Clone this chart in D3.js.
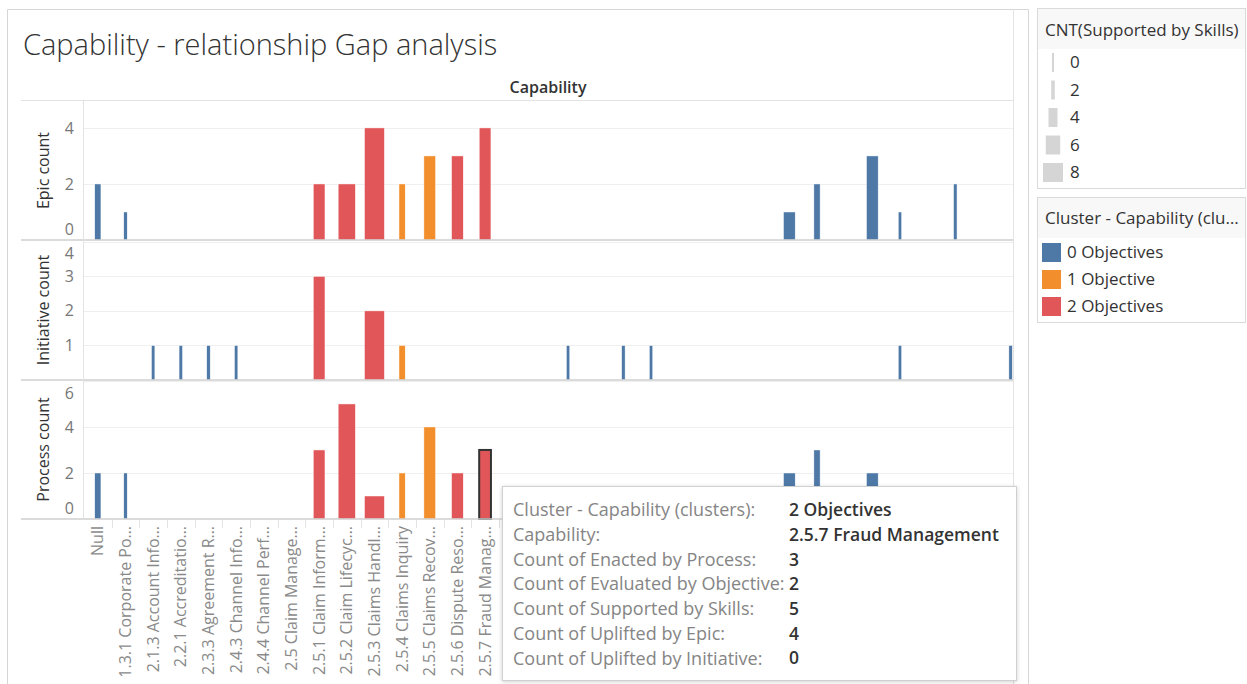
<!DOCTYPE html>
<meta charset="utf-8">
<style>
body { margin: 0; background: #fff; }
svg { font-family: "Open Sans", "Noto Sans", sans-serif; }
.grid line { stroke: #efefef; stroke-width: 1px; }
.divider { stroke: #cfcfcf; stroke-width: 1.5px; }
.tick-label { fill: #777; font-size: 16px; }
.axis-title { fill: #333; font-size: 16px; }
.x-label { fill: #8a8a8a; font-size: 16px; }
.legend-text { fill: #333; font-size: 17px; }
.tip-label { fill: #858585; font-size: 18px; }
.tip-value { fill: #333; font-size: 17.5px; font-weight: 600; }
</style>
<body>
<script src="https://d3js.org/d3.v7.min.js"></script>
<script>
// capability rows (labels as truncated on the axis)
var capabilities = ["Null", "1.3.1 Corporate Po…", "2.1.3 Account Info…", "2.2.1 Accreditatio…",
  "2.3.3 Agreement R…", "2.4.3 Channel Info…", "2.4.4 Channel Perf…", "2.5 Claim Manage…",
  "2.5.1 Claim Inform…", "2.5.2 Claim Lifecyc…", "2.5.3 Claims Handl…", "2.5.4 Claims Inquiry",
  "2.5.5 Claims Recov…", "2.5.6 Dispute Reso…", "2.5.7 Fraud Manag…",
  "2.5.8 Claim Payme…", "2.6 Customer Ma…", "2.6.1 Customer Pr…", "2.6.2 Customer Co…",
  "2.6.3 Customer Se…", "2.6.4 Customer Fe…", "2.7 Distribution…", "2.7.1 Broker Man…",
  "2.7.2 Agent Mana…", "2.8 Finance Mana…", "2.8.1 Billing", "2.8.2 Collections",
  "2.8.3 Disbursemen…", "2.8.4 General Led…", "2.9 Policy Admin…", "2.9.1 Policy Issu…",
  "2.9.2 Policy Servi…", "2.9.3 Renewals", "3.1 Product Dev…"];
var clusters = [0, 0, 0, 0, 0, 0, 0, 0, 2, 2, 2, 1, 1, 2, 2,
  0, 0, 0, 0, 0, 0, 0, 0, 0, 0, 0, 0, 0, 0, 0, 0, 0, 0, 0];
var epicCount = [2, 1, 0, 0, 0, 0, 0, 0, 2, 2, 4, 2, 3, 3, 4,
  0, 0, 0, 0, 0, 0, 0, 0, 0, 0, 1, 2, 0, 3, 1, 0, 2, 0, 0];
var initiativeCount = [0, 0, 1, 1, 1, 1, 0, 0, 3, 0, 2, 1, 0, 0, 0,
  0, 0, 1, 0, 1, 1, 0, 0, 0, 0, 0, 0, 0, 0, 1, 0, 0, 0, 1];
var processCount = [2, 2, 0, 0, 0, 0, 0, 0, 3, 5, 1, 2, 4, 2, 3,
  0, 0, 0, 0, 0, 0, 0, 0, 0, 0, 2, 3, 0, 2, 0, 0, 0, 0, 0];
var skillsCount = [3, 2, 2, 2, 2, 2, 0, 0, 5, 7, 8, 3, 5, 5, 5,
  0, 0, 2, 0, 2, 2, 0, 0, 0, 0, 5, 3, 0, 5, 2, 0, 2, 0, 2];

var clusterNames = ["0 Objectives", "1 Objective", "2 Objectives"];
var clusterColors = ["#4e79a7", "#f28e2b", "#e15759"];
var sizeLegendValues = [0, 2, 4, 6, 8];

var selectedIndex = 14;
var selectedFullName = "2.5.7 Fraud Management";

var W = 1247, H = 684;
var plotLeft = 84, plotRight = 1013, band = 27.66;

var svg = d3.select("body").append("svg")
    .attr("width", W)
    .attr("height", H);

svg.append("rect").attr("width", W).attr("height", H).attr("fill", "#fff");

// sheet frame
svg.append("path")
    .attr("d", "M7.5,684 V9.5 H1028.5 V684")
    .attr("fill", "none")
    .attr("stroke", "#d6d6d6");

svg.append("text")
    .attr("x", 23)
    .attr("y", 55)
    .attr("fill", "#333")
    .style("font-size", "29px")
    .style("font-weight", 300)
    .text("Capability - relationship Gap analysis");

svg.append("text")
    .attr("x", 548)
    .attr("y", 93)
    .attr("text-anchor", "middle")
    .attr("fill", "#333")
    .style("font-size", "16px")
    .style("font-weight", 600)
    .text("Capability");

var x = d3.scaleBand()
    .domain(capabilities)
    .range([plotLeft, plotLeft + band * capabilities.length]);

var size = d3.scaleLinear().domain([0, 8]).range([-2, 20]);
function barWidth(s) { return Math.max(2, size(s)); }

svg.append("clipPath").attr("id", "pane")
  .append("rect")
    .attr("x", plotLeft).attr("y", 90)
    .attr("width", plotRight - plotLeft).attr("height", 440);

var panels = [
  {title: "Epic count", values: epicCount, top: 101, bottom: 240, max: 4.96, ticks: [0, 2, 4]},
  {title: "Initiative count", values: initiativeCount, top: 240, bottom: 380, max: 4.05, ticks: [1, 2, 3, 4]},
  {title: "Process count", values: processCount, top: 380, bottom: 519, max: 6.04, ticks: [0, 2, 4, 6]}
];

// header line
svg.append("line")
    .attr("x1", 21).attr("x2", plotRight)
    .attr("y1", 100.5).attr("y2", 100.5)
    .attr("stroke", "#e3e3e3");

panels.forEach(function(p) {
  var y = d3.scaleLinear().domain([0, p.max]).range([p.bottom, p.top]);

  svg.append("g").attr("class", "grid")
    .selectAll("line")
    .data(p.ticks.filter(function(t) { return t > 0; }))
    .join("line")
      .attr("x1", plotLeft).attr("x2", plotRight)
      .attr("y1", function(t) { return Math.round(y(t)) + 0.5; })
      .attr("y2", function(t) { return Math.round(y(t)) + 0.5; });

  svg.append("g")
    .selectAll("text")
    .data(p.ticks)
    .join("text")
      .attr("class", "tick-label")
      .attr("x", 74)
      .attr("y", function(t) { return Math.max(p.top + 13, Math.min(p.bottom - 11, y(t))); })
      .attr("dy", "0.35em")
      .attr("text-anchor", "end")
      .text(function(t) { return t; });

  svg.append("text")
    .attr("class", "axis-title")
    .attr("transform", "translate(43," + (p.top + p.bottom) / 2 + ") rotate(-90)")
    .attr("dy", "0.35em")
    .attr("text-anchor", "middle")
    .text(p.title);

  svg.append("g")
      .attr("clip-path", "url(#pane)")
    .selectAll("rect")
    .data(capabilities.map(function(c, i) { return {i: i, c: c, v: p.values[i]}; })
      .filter(function(d) { return d.v > 0; }))
    .join("rect")
      .attr("x", function(d) { return x(d.c) + x.bandwidth() / 2 - barWidth(skillsCount[d.i]) / 2; })
      .attr("width", function(d) { return barWidth(skillsCount[d.i]); })
      .attr("y", function(d) { return y(d.v); })
      .attr("height", function(d) { return y(0) - y(d.v); })
      .attr("fill", function(d) { return clusterColors[clusters[d.i]]; })
      .attr("stroke", function(d) { return (p.title === "Process count" && d.i === selectedIndex) ? "#333" : "#fff"; })
      .attr("stroke-width", function(d) { return (p.title === "Process count" && d.i === selectedIndex) ? 2 : 0.5; });

  svg.append("line")
    .attr("class", "divider")
    .attr("x1", 21).attr("x2", plotRight)
    .attr("y1", p.bottom).attr("y2", p.bottom);
});

// row axis border and pane right edge
svg.append("line")
    .attr("x1", 83.5).attr("x2", 83.5).attr("y1", 101).attr("y2", 519)
    .attr("stroke", "#e3e3e3");
svg.append("line")
    .attr("x1", plotRight + 0.5).attr("x2", plotRight + 0.5).attr("y1", 9).attr("y2", 684)
    .attr("stroke", "#e3e3e3");

// x axis labels and separators
var xAxis = svg.append("g");
xAxis.selectAll("line")
  .data(capabilities.slice(1))
  .join("line")
    .attr("x1", function(c) { return Math.round(x(c)) + 0.5; })
    .attr("x2", function(c) { return Math.round(x(c)) + 0.5; })
    .attr("y1", 520).attr("y2", 528)
    .attr("stroke", "#e3e3e3");
xAxis.selectAll("text")
  .data(capabilities.filter(function(c) { return x(c) + x.bandwidth() / 2 < plotRight; }))
  .join("text")
    .attr("class", "x-label")
    .attr("transform", function(c) { return "translate(" + (x(c) + x.bandwidth() / 2) + ",526) rotate(-90)"; })
    .attr("dy", "0.35em")
    .attr("text-anchor", "end")
    .text(function(c) { return c; });

// size legend
var legend1 = svg.append("g");
legend1.append("rect").attr("x", 1037.5).attr("y", 8.5).attr("width", 208).attr("height", 180)
    .attr("fill", "#fff").attr("stroke", "#dadada");
legend1.append("rect").attr("x", 1038).attr("y", 9).attr("width", 207).attr("height", 40).attr("fill", "#f8f8f8");
legend1.append("text").attr("class", "legend-text").attr("x", 1045).attr("y", 30).attr("dy", "0.35em")
    .text("CNT(Supported by Skills)");
legend1.selectAll(".mark")
  .data(sizeLegendValues)
  .join("rect")
    .attr("class", "mark")
    .attr("x", function(v) { return 1053 - barWidth(v) / 2; })
    .attr("y", function(v, i) { return 53 + i * 27.5; })
    .attr("width", function(v) { return barWidth(v); })
    .attr("height", 19)
    .attr("fill", "#d5d5d5");
legend1.selectAll(".lbl")
  .data(sizeLegendValues)
  .join("text")
    .attr("class", "legend-text lbl")
    .attr("x", 1070)
    .attr("y", function(v, i) { return 62.5 + i * 27.5; })
    .attr("dy", "0.35em")
    .text(function(v) { return v; });

// colour legend
var legend2 = svg.append("g");
legend2.append("rect").attr("x", 1037.5).attr("y", 197.5).attr("width", 208).attr("height", 125)
    .attr("fill", "#fff").attr("stroke", "#dadada");
legend2.append("rect").attr("x", 1038).attr("y", 198).attr("width", 207).attr("height", 40).attr("fill", "#f8f8f8");
legend2.append("text").attr("class", "legend-text").attr("x", 1045).attr("y", 218).attr("dy", "0.35em")
    .text("Cluster - Capability (clu…");
legend2.selectAll(".sw")
  .data(clusterNames)
  .join("rect")
    .attr("class", "sw")
    .attr("x", 1042).attr("width", 19)
    .attr("y", function(c, i) { return 243 + i * 27; })
    .attr("height", 19)
    .attr("fill", function(c, i) { return clusterColors[i]; });
legend2.selectAll(".lbl")
  .data(clusterNames)
  .join("text")
    .attr("class", "legend-text lbl")
    .attr("x", 1067)
    .attr("y", function(c, i) { return 252.5 + i * 27; })
    .attr("dy", "0.35em")
    .text(function(c) { return c; });

// tooltip for the selected mark
var tipRows = [
  ["Cluster - Capability (clusters):", clusterNames[clusters[selectedIndex]]],
  ["Capability:", selectedFullName],
  ["Count of Enacted by Process:", processCount[selectedIndex]],
  ["Count of Evaluated by Objective:", clusters[selectedIndex]],
  ["Count of Supported by Skills:", skillsCount[selectedIndex]],
  ["Count of Uplifted by Epic:", epicCount[selectedIndex]],
  ["Count of Uplifted by Initiative:", initiativeCount[selectedIndex]]
];

var defs = svg.append("defs");
var f = defs.append("filter").attr("id", "shadow").attr("x", "-5%").attr("y", "-5%").attr("width", "110%").attr("height", "110%");
f.append("feDropShadow").attr("dx", 0).attr("dy", 1).attr("stdDeviation", 2).attr("flood-color", "#000").attr("flood-opacity", 0.18);

var tip = svg.append("g");
tip.append("rect")
    .attr("x", 502.5).attr("y", 486.5).attr("width", 514).attr("height", 194)
    .attr("fill", "#fff").attr("stroke", "#d0d0d0")
    .attr("filter", "url(#shadow)");
tip.selectAll(".tip-label")
  .data(tipRows)
  .join("text")
    .attr("class", "tip-label")
    .attr("x", 513)
    .attr("y", function(r, i) { return 510 + i * 24.7; })
    .attr("dy", "0.35em")
    .text(function(r) { return r[0]; });
tip.selectAll(".tip-value")
  .data(tipRows)
  .join("text")
    .attr("class", "tip-value")
    .attr("x", 789)
    .attr("y", function(r, i) { return 510 + i * 24.7; })
    .attr("dy", "0.35em")
    .text(function(r) { return r[1]; });
</script>
</body>
